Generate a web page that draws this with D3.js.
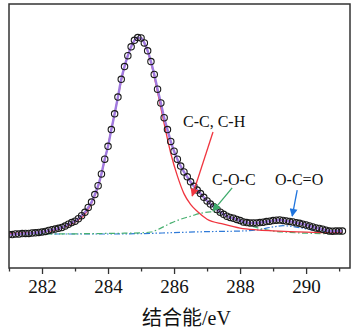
<!DOCTYPE html>
<html>
<head>
<meta charset="utf-8">
<script src="https://cdn.jsdelivr.net/npm/d3@7"></script>
<style>
  body { margin: 0; background: #fff; }
  text { font-family: "Liberation Serif", "Times New Roman", serif; }
</style>
</head>
<body>
<div id="wrapper"></div>
<script>
// measured spectrum (binding energy in eV, intensity in arbitrary units)
const energy = [
  281.0, 281.1, 281.2, 281.3, 281.4, 281.5, 281.6, 281.7, 281.8, 281.9,
  282.0, 282.1, 282.2, 282.3, 282.4, 282.5, 282.6, 282.7, 282.8, 282.9,
  283.0, 283.1, 283.2, 283.3, 283.4, 283.5, 283.6, 283.7, 283.8, 283.9,
  284.0, 284.1, 284.2, 284.3, 284.4, 284.5, 284.6, 284.7, 284.8, 284.9,
  285.0, 285.1, 285.2, 285.3, 285.4, 285.5, 285.6, 285.7, 285.8, 285.9,
  286.0, 286.1, 286.2, 286.3, 286.4, 286.5, 286.6, 286.7, 286.8, 286.9,
  287.0, 287.1, 287.2, 287.3, 287.4, 287.5, 287.6, 287.7, 287.8, 287.9,
  288.0, 288.1, 288.2, 288.3, 288.4, 288.5, 288.6, 288.7, 288.8, 288.9,
  289.0, 289.1, 289.2, 289.3, 289.4, 289.5, 289.6, 289.7, 289.8, 289.9,
  290.0, 290.1, 290.2, 290.3, 290.4, 290.5, 290.6, 290.7, 290.8, 290.9,
  291.0, 291.1
];
const intensity = [
  -0.3, -0.3, 0.0, 0.0, 0.2, 0.3, 0.3, 0.5, 0.6, 0.8,
  1.0, 1.3, 1.8, 2.2, 2.5, 2.9, 3.3, 4.0, 5.0, 5.8,
  6.5, 7.8, 9.3, 11.0, 13.5, 16.2, 20.0, 24.5, 30.5, 38.0,
  44.5, 53.0, 61.0, 69.5, 78.5, 85.0, 90.5, 95.0, 98.3, 99.7,
  99.5, 97.0, 93.0, 87.5, 81.0, 73.5, 66.5, 59.0, 53.0, 47.0,
  42.0, 38.0, 34.5, 31.5, 29.0, 26.5, 24.2, 22.3, 20.5, 18.6,
  16.8, 15.2, 13.8, 12.4, 11.1, 10.0, 9.0, 8.4, 8.0, 7.4,
  6.8, 6.1, 5.8, 5.6, 5.6, 5.6, 5.8, 6.0, 6.3, 6.5,
  6.8, 7.0, 7.1, 6.9, 6.6, 6.4, 6.1, 5.7, 5.4, 5.0,
  4.6, 4.1, 3.6, 3.1, 2.8, 2.4, 1.9, 1.5, 1.4, 1.5,
  1.5, 1.5
];

// fitted components
const ccEnergy = [281.0, 281.5, 282.0, 282.5, 283.0, 283.3, 283.5, 283.7, 283.9, 284.1, 284.3, 284.5, 284.7, 284.9, 285.0, 285.1, 285.3, 285.5, 285.7, 285.9, 286.1, 286.3, 286.5, 286.7, 287.0, 287.5, 288.0, 288.5, 289.0, 289.5, 290.0, 290.5, 291.1];
const ccValues = [0.3, 0.6, 1.0, 2.5, 6.0, 10.0, 15.5, 24.0, 37.5, 53.0, 69.5, 85.0, 95.0, 99.7, 99.5, 97.0, 87.0, 72.0, 56.0, 41.0, 29.5, 20.5, 15.0, 11.5, 7.5, 5.0, 3.0, 2.1, 1.6, 1.2, 0.9, 0.7, 0.6];

const cocEnergy = [281.0, 283.0, 284.0, 284.5, 285.0, 285.3, 285.6, 285.9, 286.2, 286.5, 286.8, 287.1, 287.4, 287.7, 288.0, 288.3, 288.6, 289.0, 289.5, 290.0, 291.1];
const cocValues = [0.0, 0.1, 0.3, 0.4, 0.6, 1.0, 3.0, 5.5, 7.5, 9.0, 10.5, 11.2, 10.5, 8.7, 6.4, 4.3, 2.8, 1.5, 0.8, 0.4, 0.1];

const ocoEnergy = [281.0, 284.0, 285.0, 286.0, 287.0, 288.0, 288.5, 289.0, 289.3, 289.6, 290.0, 290.5, 291.1];
const ocoValues = [0.0, 0.0, 0.2, 0.7, 1.2, 1.5, 2.0, 3.6, 4.2, 3.8, 2.6, 1.2, 0.5];

const xTicks = [282, 284, 286, 288, 290];
const xMinorTicks = [281, 283, 285, 287, 289, 291];
const xLabel = "结合能/eV";

const annotations = [
  { text: "C-C, C-H", tx: 286.27, ty: 54.3, from: [287.18, 51.8], to: [286.55, 19.3], color: "#f0353f" },
  { text: "C-O-C", tx: 287.15, ty: 24.9, from: [287.76, 23.4], to: [287.18, 11.7], color: "#3daa6a" },
  { text: "O-C=O", tx: 289.06, ty: 24.9, from: [289.73, 22.3], to: [289.58, 9.1], color: "#1f74dd" },
];

const serif = '"Liberation Serif", "Times New Roman", serif';

function drawChart() {
  const dimensions = {
    width: 352,
    height: 333,
    margin: { top: 4, right: 2, bottom: 65, left: 9 },
  };
  dimensions.boundedWidth = dimensions.width - dimensions.margin.left - dimensions.margin.right;
  dimensions.boundedHeight = dimensions.height - dimensions.margin.top - dimensions.margin.bottom;

  const wrapper = d3.select("#wrapper")
    .append("svg")
    .attr("width", dimensions.width)
    .attr("height", dimensions.height);

  const bounds = wrapper.append("g")
    .attr("transform", `translate(${dimensions.margin.left},${dimensions.margin.top})`);

  const xScale = d3.scaleLinear()
    .domain([281, 291.33])
    .range([0, dimensions.boundedWidth]);

  const yScale = d3.scaleLinear()
    .domain([-17.26, 116.75])
    .range([dimensions.boundedHeight, 0]);

  const defs = wrapper.append("defs");
  annotations.forEach((a, i) => {
    defs.append("marker")
      .attr("id", "arrow" + i)
      .attr("viewBox", "0 0 10 10")
      .attr("refX", 9)
      .attr("refY", 5)
      .attr("markerWidth", 9)
      .attr("markerHeight", 8)
      .attr("markerUnits", "userSpaceOnUse")
      .attr("orient", "auto")
      .append("path")
      .attr("d", "M0,0 L10,5 L0,10 Z")
      .attr("fill", a.color);
  });

  defs.append("clipPath").attr("id", "plot-clip")
    .append("rect")
    .attr("width", dimensions.boundedWidth)
    .attr("height", dimensions.boundedHeight);

  const plot = bounds.append("g").attr("clip-path", "url(#plot-clip)");

  const lineOf = (xs, ys) => d3.line()
    .x((d, i) => xScale(xs[i]))
    .y((d) => yScale(d))
    .curve(d3.curveMonotoneX)(ys);

  // O-C=O component (dash dot dot)
  plot.append("path")
    .attr("d", lineOf(ocoEnergy, ocoValues))
    .attr("fill", "none")
    .attr("stroke", "#2f7ad8")
    .attr("stroke-width", 1.2)
    .attr("stroke-dasharray", "6,2,1.5,2,1.5,2");

  // C-O-C component (dash dot)
  plot.append("path")
    .attr("d", lineOf(cocEnergy, cocValues))
    .attr("fill", "none")
    .attr("stroke", "#48b070")
    .attr("stroke-width", 1.2)
    .attr("stroke-dasharray", "6,2.5,1.5,2.5");

  // C-C, C-H component
  plot.append("path")
    .attr("d", lineOf(ccEnergy, ccValues))
    .attr("fill", "none")
    .attr("stroke", "#f0353f")
    .attr("stroke-width", 1.3);

  // envelope
  plot.append("path")
    .attr("d", lineOf(energy, intensity))
    .attr("fill", "none")
    .attr("stroke", "#a07ae0")
    .attr("stroke-width", 2.4);

  // measured points
  plot.append("g")
    .selectAll("circle")
    .data(intensity)
    .join("circle")
    .attr("cx", (d, i) => xScale(energy[i]))
    .attr("cy", (d) => yScale(d))
    .attr("r", 3.2)
    .attr("fill", "none")
    .attr("stroke", "#1a1a1a")
    .attr("stroke-width", 1.1);

  // frame
  bounds.append("rect")
    .attr("width", dimensions.boundedWidth)
    .attr("height", dimensions.boundedHeight)
    .attr("fill", "none")
    .attr("stroke", "#333")
    .attr("stroke-width", 1.5);

  // x axis
  const xAxis = bounds.append("g")
    .attr("transform", `translate(0,${dimensions.boundedHeight})`)
    .call(d3.axisBottom(xScale).tickValues(xTicks).tickSize(6).tickPadding(6).tickFormat(d3.format("d")))
    .attr("font-family", serif)
    .attr("font-size", 19);
  xAxis.select(".domain").remove();
  xAxis.selectAll(".tick line").attr("stroke", "#333").attr("stroke-width", 1.3);
  xAxis.selectAll(".tick text")
    .attr("fill", "#111")
    .attr("font-family", serif)
    .style("font-family", serif)
    .style("font-size", "19px");

  const xMinor = bounds.append("g")
    .attr("transform", `translate(0,${dimensions.boundedHeight})`)
    .call(d3.axisBottom(xScale).tickValues(xMinorTicks).tickSize(3.5).tickFormat(""));
  xMinor.select(".domain").remove();
  xMinor.selectAll(".tick line").attr("stroke", "#333").attr("stroke-width", 1.3);

  bounds.append("text")
    .attr("x", dimensions.boundedWidth / 2 + 7)
    .attr("y", dimensions.boundedHeight + 57)
    .attr("text-anchor", "middle")
    .attr("fill", "#111")
    .style("font-size", "20px")
    .style("font-family", '"Liberation Serif", "Noto Sans CJK SC", serif')
    .text(xLabel);

  // annotations
  annotations.forEach((a, i) => {
    bounds.append("line")
      .attr("x1", xScale(a.from[0]))
      .attr("y1", yScale(a.from[1]))
      .attr("x2", xScale(a.to[0]))
      .attr("y2", yScale(a.to[1]))
      .attr("stroke", a.color)
      .attr("stroke-width", 1.3)
      .attr("marker-end", `url(#arrow${i})`);
    bounds.append("text")
      .attr("x", xScale(a.tx))
      .attr("y", yScale(a.ty))
      .attr("fill", "#111")
      .style("font-family", serif)
      .style("font-size", "16px")
      .text(a.text);
  });
}

drawChart();
</script>
</body>
</html>
